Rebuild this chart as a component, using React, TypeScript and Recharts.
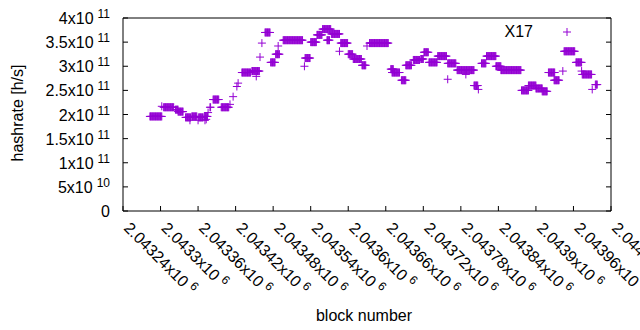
import React from 'react';
import { ScatterChart, Scatter, XAxis, YAxis, Legend, Label } from 'recharts';

const PURPLE = '#9400d3';
const FONT = '"Liberation Sans", Arial, sans-serif';

// stretches of blocks that share one hashrate value (first block, last block, h/s)
const runFrom = [
  2043283, 2043302, 2043305, 2043324, 2043328, 2043340, 2043347, 2043350, 2043360, 2043361,
  2043370, 2043371, 2043373, 2043376, 2043379, 2043384, 2043397, 2043411, 2043416, 2043422,
  2043424, 2043430, 2043446, 2043453, 2043459, 2043462, 2043467, 2043476, 2043484, 2043488,
  2043496, 2043530, 2043531, 2043540, 2043550, 2043559, 2043566, 2043573, 2043586, 2043588,
  2043600, 2043608, 2043622, 2043630, 2043634, 2043668, 2043670, 2043685, 2043692, 2043704,
  2043716, 2043721, 2043729, 2043743, 2043759, 2043759, 2043774, 2043788, 2043801, 2043808,
  2043813, 2043821, 2043836, 2043844, 2043877, 2043888, 2043900, 2043910, 2043920, 2043929,
  2043943, 2043945, 2043964, 2043973, 2043974, 2043990, 2043995,
];
const runTo = [
  2043302, 2043302, 2043321, 2043328, 2043336, 2043348, 2043347, 2043358, 2043360, 2043368,
  2043375, 2043371, 2043373, 2043376, 2043380, 2043393, 2043409, 2043411, 2043416, 2043422,
  2043424, 2043444, 2043458, 2043453, 2043459, 2043462, 2043475, 2043483, 2043490, 2043488,
  2043527, 2043530, 2043539, 2043549, 2043558, 2043572, 2043570, 2043586, 2043586, 2043599,
  2043607, 2043621, 2043628, 2043630, 2043664, 2043672, 2043682, 2043692, 2043701, 2043714,
  2043720, 2043728, 2043742, 2043757, 2043759, 2043772, 2043801, 2043788, 2043807, 2043808,
  2043820, 2043836, 2043844, 2043876, 2043888, 2043900, 2043910, 2043918, 2043930, 2043937,
  2043943, 2043962, 2043973, 2043973, 2043989, 2043990, 2043998,
];
const runRate = [
  1.96e11, 2.17e11, 2.15e11, 2.10e11, 2.06e11, 1.94e11, 1.88e11, 1.96e11, 1.88e11, 1.94e11,
  1.96e11, 1.88e11, 1.90e11, 2.04e11, 2.15e11, 2.31e11, 2.15e11, 2.21e11, 2.37e11, 2.58e11,
  2.65e11, 2.87e11, 2.90e11, 2.79e11, 3.19e11, 3.48e11, 3.70e11, 3.08e11, 3.25e11, 3.42e11,
  3.54e11, 3.00e11, 3.17e11, 3.50e11, 3.65e11, 3.77e11, 3.54e11, 3.67e11, 3.31e11, 3.48e11,
  3.25e11, 3.15e11, 3.02e11, 3.42e11, 3.48e11, 2.94e11, 2.87e11, 2.71e11, 3.02e11, 3.13e11,
  3.15e11, 3.29e11, 3.08e11, 3.21e11, 2.73e11, 3.06e11, 2.92e11, 2.83e11, 2.60e11, 2.52e11,
  3.06e11, 3.21e11, 3.00e11, 2.92e11, 2.50e11, 2.60e11, 2.54e11, 2.48e11, 2.87e11, 2.71e11,
  2.90e11, 3.31e11, 3.08e11, 2.90e11, 2.83e11, 2.52e11, 2.62e11,
];

const xTicks = [
  2043240, 2043300, 2043360, 2043420, 2043480, 2043540, 2043600,
  2043660, 2043720, 2043780, 2043840, 2043900, 2043960, 2044020,
];
const xTickMantissa = [
  '2.04324', '2.0433', '2.04336', '2.04342', '2.04348', '2.04354', '2.0436',
  '2.04366', '2.04372', '2.04378', '2.04384', '2.0439', '2.04396', '2.04402',
];
const yTicks = [0, 5e10, 1e11, 1.5e11, 2e11, 2.5e11, 3e11, 3.5e11, 4e11];
const yTickMantissa = ['0', '5', '1', '1.5', '2', '2.5', '3', '3.5', '4'];
const yTickExp = ['', '10', '11', '11', '11', '11', '11', '11', '11'];

const points: { block: number; rate: number }[] = [];
runFrom.forEach((from, i) => {
  for (let b = from; b <= runTo[i]; b++) points.push({ block: b, rate: runRate[i] });
});

const Plus = (props: any) => {
  const { cx, cy } = props;
  if (cx == null || cy == null) return null;
  return (
    <path
      d={`M${cx - 4},${cy}h8M${cx},${cy - 4}v8`}
      stroke={PURPLE}
      strokeWidth={1}
      fill="none"
    />
  );
};

const XTick = (props: any) => {
  const { x, y, payload } = props;
  const i = xTicks.indexOf(payload.value);
  const tx = x;
  const ty = y + 18;
  return (
    <g>
      <line x1={x} y1={y} x2={x} y2={y - 5} stroke="#000" />
      <text
        x={tx}
        y={ty}
        transform={`rotate(45 ${tx} ${ty})`}
        fontSize={16}
        fontFamily={FONT}
        fill="#000"
      >
        {xTickMantissa[i] + 'x10'}
        <tspan dx={4} dy={-6} fontSize={12}>6</tspan>
      </text>
    </g>
  );
};

const YTick = (props: any) => {
  const { x, y, payload } = props;
  const i = yTicks.indexOf(payload.value);
  const exp = yTickExp[i];
  return (
    <g>
      <line x1={x} y1={y} x2={x + 5} y2={y} stroke="#000" />
      <text x={x - 13} y={y + 6} textAnchor="end" fontSize={16} fontFamily={FONT} fill="#000">
        {exp ? yTickMantissa[i] + 'x10' : yTickMantissa[i]}
        {exp && (
          <tspan dx={4} dy={-6} fontSize={12}>{exp}</tspan>
        )}
      </text>
    </g>
  );
};

const KeyBox = () => (
  <svg width={120} height={24}>
    <text x={53} y={17} textAnchor="end" fontSize={16} fontFamily={FONT} fill="#000">X17</text>
    <path d="M83,12h8M87,8v8" stroke={PURPLE} strokeWidth={1} fill="none" />
  </svg>
);

export default function App() {
  return (
    <div style={{ position: 'absolute', left: 0, top: 0, width: 640, height: 330, background: '#fff' }}>
      <ScatterChart width={640} height={330} margin={{ top: 18, right: 29, left: 0, bottom: 0 }}>
        <XAxis
          xAxisId="bottom"
          dataKey="block"
          type="number"
          domain={[2043240, 2044020]}
          allowDataOverflow
          ticks={xTicks}
          interval={0}
          height={119}
          stroke="#000"
          tickLine={false}
          tickSize={0}
          tickMargin={0}
          tick={<XTick />}
        >
          <Label
            content={() => (
              <text x={364} y={321} textAnchor="middle" fontSize={16} fontFamily={FONT} fill="#000">
                block number
              </text>
            )}
          />
        </XAxis>
        <XAxis
          xAxisId="top"
          orientation="top"
          type="number"
          domain={[2043240, 2044020]}
          allowDataOverflow
          ticks={xTicks}
          interval={0}
          height={1}
          mirror
          stroke="#000"
          tickSize={5}
          tick={() => null}
        />
        <YAxis
          yAxisId="left"
          dataKey="rate"
          type="number"
          domain={[0, 4e11]}
          allowDataOverflow
          ticks={yTicks}
          interval={0}
          width={123}
          stroke="#000"
          tickLine={false}
          tickSize={0}
          tickMargin={0}
          tick={<YTick />}
        >
          <Label
            content={() => (
              <text
                x={23}
                y={113}
                transform="rotate(-90 23 113)"
                textAnchor="middle"
                fontSize={16}
                fontFamily={FONT}
                fill="#000"
              >
                hashrate [h/s]
              </text>
            )}
          />
        </YAxis>
        <YAxis
          yAxisId="right"
          orientation="right"
          type="number"
          domain={[0, 4e11]}
          allowDataOverflow
          ticks={yTicks}
          interval={0}
          width={1}
          mirror
          stroke="#000"
          tickSize={5}
          tick={() => null}
        />
        <Legend
          verticalAlign="middle"
          layout="horizontal"
          content={() => <KeyBox />}
          wrapperStyle={{ left: 480, top: 20, width: 120, height: 24 }}
        />
        <Scatter
          name="X17"
          data={points}
          xAxisId="bottom"
          yAxisId="left"
          shape={<Plus />}
          isAnimationActive={false}
        />
      </ScatterChart>
    </div>
  );
}
